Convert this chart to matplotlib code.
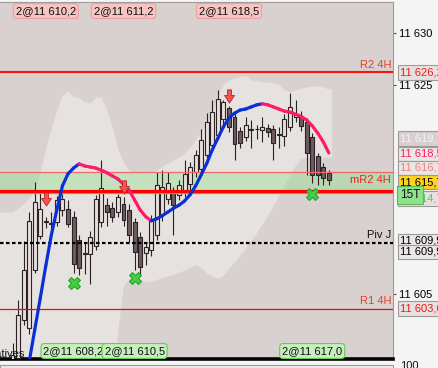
import matplotlib
matplotlib.use("Agg")
import matplotlib.pyplot as plt
import numpy as np
from matplotlib.collections import LineCollection
from matplotlib.path import Path
from matplotlib.ticker import FuncFormatter

plt.rcParams['font.family'] = ['Liberation Sans', 'DejaVu Sans']

# ---- data ----
opens = [11597.5, 11598.9, 11602.5, 11601.7, 11607.3, 11610.55, 11611.85, 11611.8, 11611.9, 11613.0,
         11613.1, 11612.4, 11610.2, 11608.85, 11608.8, 11609.6, 11611.9, 11613.5, 11613.2, 11612.85,
         11613.6, 11613.0, 11611.9, 11610.45, 11608.9, 11609.2, 11610.65, 11612.55, 11614.1, 11614.75,
         11614.5, 11614.75, 11615.5, 11616.7, 11617.0, 11618.3, 11619.25, 11620.2, 11621.7, 11622.8,
         11621.95, 11620.6, 11620.0, 11620.75, 11620.75, 11620.7, 11620.9, 11620.8, 11620.25, 11620.1,
         11621.0, 11621.95, 11621.95, 11621.45, 11620.0, 11618.2, 11617.15, 11616.6]
highs = [11600.3, 11604.4, 11610.1, 11612.85, 11615.7, 11614.7, 11612.4, 11612.8, 11614.4, 11614.6,
         11614.0, 11612.9, 11610.6, 11610.0, 11611.0, 11614.5, 11617.8, 11614.2, 11613.8, 11614.6,
         11614.3, 11613.6, 11612.3, 11610.9, 11610.0, 11612.6, 11616.65, 11616.9, 11616.65, 11615.2,
         11615.9, 11617.8, 11617.6, 11618.8, 11620.75, 11622.3, 11623.55, 11624.5, 11623.6, 11623.0,
         11622.3, 11621.0, 11621.9, 11621.65, 11621.2, 11621.9, 11621.3, 11621.2, 11621.0, 11622.2,
         11624.25, 11623.6, 11622.5, 11621.8, 11620.4, 11618.5, 11617.5, 11616.9]
lows = [11597.0, 11598.3, 11602.0, 11601.2, 11607.0, 11610.3, 11611.3, 11611.1, 11611.5, 11612.5,
        11611.4, 11607.0, 11606.8, 11606.9, 11606.0, 11609.2, 11611.4, 11611.5, 11611.9, 11612.4,
        11611.5, 11610.0, 11607.3, 11606.7, 11607.8, 11608.6, 11610.2, 11612.0, 11613.6, 11610.65,
        11614.0, 11614.3, 11615.0, 11616.2, 11616.5, 11617.8, 11618.8, 11619.8, 11621.3, 11620.5,
        11617.8, 11619.0, 11619.6, 11619.0, 11619.8, 11619.5, 11620.0, 11617.8, 11619.0, 11619.2,
        11620.6, 11621.5, 11620.6, 11616.4, 11615.6, 11615.4, 11615.4, 11615.4]
closes = [11599.2, 11603.0, 11607.3, 11612.0, 11613.8, 11613.1, 11611.95, 11611.7, 11614.0, 11614.1,
          11611.7, 11607.9, 11607.5, 11608.9, 11610.45, 11614.1, 11615.1, 11612.85, 11612.4, 11614.3,
          11612.1, 11610.65, 11609.0, 11607.6, 11609.5, 11612.1, 11615.4, 11615.25, 11615.6, 11613.5,
          11615.45, 11616.5, 11617.15, 11618.3, 11619.75, 11621.45, 11622.4, 11623.65, 11623.35, 11621.0,
          11619.35, 11619.45, 11621.2, 11620.65, 11620.8, 11621.0, 11620.5, 11619.45, 11620.2, 11621.75,
          11622.9, 11622.2, 11621.1, 11618.5, 11616.4, 11616.4, 11616.1, 11615.9]

ma_line = [np.nan, np.nan, np.nan, 11598.5, 11601.55, 11604.6, 11607.7, 11610.65, 11613.1, 11615.35,
           11616.5, 11617.05, 11617.45, 11617.25, 11617.15, 11617.05, 11616.85, 11616.6, 11616.3, 11616.0,
           11615.5, 11614.95, 11614.0, 11613.05, 11612.4, 11612.0, 11612.2, 11612.5, 11612.85, 11613.2,
           11613.5, 11613.9, 11614.5, 11615.35, 11616.4, 11617.5, 11618.8, 11619.9, 11621.0, 11621.85,
           11622.3, 11622.6, 11622.7, 11622.9, 11623.1, 11623.2, 11623.1, 11622.9, 11622.7, 11622.5,
           11622.4, 11622.2, 11622.0, 11621.65, 11621.1, 11620.4, 11619.55, 11618.5]

env_upper = [11612.85, 11613.2, 11613.6, 11614.2, 11614.95, 11616.7, 11619.0, 11620.9, 11622.6, 11624.05,
             11624.4, 11623.85, 11623.85, 11623.4, 11623.3, 11623.85, 11623.85, 11622.6, 11620.9, 11618.8,
             11617.55, 11616.85, 11616.65, 11616.6, 11616.6, 11616.65, 11616.85, 11617.25, 11617.55, 11617.8,
             11618.1, 11618.5, 11619.05, 11619.75, 11620.5, 11621.25, 11622.4, 11624.05, 11625.1, 11625.5,
             11625.65, 11625.85, 11625.85, 11625.5, 11625.4, 11625.3, 11625.3, 11625.2, 11625.1, 11624.5,
             11624.35, 11624.5, 11624.7, 11624.8, 11624.9, 11624.9, 11624.8, 11624.6]
env_lower = [11596.0] * 19 + [
             11601.55, 11605.85, 11606.5, 11606.6, 11606.4, 11606.15, 11606.25, 11606.4, 11606.6, 11606.7,
             11606.9, 11607.1, 11607.3, 11607.6, 11607.8, 11607.5, 11607.0, 11606.7, 11606.5, 11606.8,
             11607.5, 11608.05, 11608.7, 11609.4, 11610.15, 11610.9, 11611.7, 11612.55, 11613.5, 11614.45,
             11615.45, 11616.4, 11617.35, 11618.0, 11618.1, 11618.1, 11618.1, 11618.1, 11618.1]

r2_4h = 11626.2
r1_4h = 11603.6
mr2_4h = 11614.9
piv_j = 11609.9
band_top, band_bot = 11616.7, 11614.7

sell_bars = [6, 20, 39]
sell_prices = [11614.1, 11615.2, 11623.9]
sell_tags = ["2@11 610,2", "2@11 611,2", "2@11 618,5"]
buy_bars = [11, 22, 54]
buy_prices = [11606.05, 11606.5, 11614.6]
buy_tags = ["2@11 608,2", "2@11 610,5", "2@11 617,0"]

scale_ticks = [11605, 11625, 11630]

# right scale boxes: price, text, text colour, box colour, nudge (px)
scale_labels = [
    (11626.2, "11 626,2", "#f01818", "#e6e0e0", 0),
    (11619.7, "11 619,7", "#f6f2f2", "#d8d0d0", -2),
    (11618.5, "11 618,5", "#ff1a66", "#ebe7e7", 1),
    (11616.7, "11 616,7", "#f08080", "#ebe6e6", -4),
    (11614.7, "11 614,7", "#55c855", "#e6e2e2", 6),
    (11615.7, "11 615,7", "#000000", "#ffd21c", 0),
    (11609.9, "11 609,9", "#000000", "#ebe7e7", -2),
    (11609.9, "11 609,9", "#000000", "#ebe7e7", 9),
    (11603.6, "11 603,6", "#f01818", "#e6e0e0", 0),
]

# ---- layout (pixels of the 438x368 screenshot) ----
W, H = 438, 368
PLOT_R = 393
TOP, BOT = 2, 359
X0, STEP = 12.5, 5.55
PX_PER_PT = 10.45
Y_REF, P_REF = 85, 11625.0

fig = plt.figure(figsize=(W / 100, H / 100), dpi=100, facecolor="#f5f4f4")
ax = fig.add_axes([0, (H - BOT) / H, PLOT_R / W, (BOT - TOP) / H])
ax.set_facecolor("#d9d1cf")

idx = np.arange(len(opens))
o, h, l, c = map(np.array, (opens, highs, lows, closes))

# light envelope
xe = np.r_[idx[0] - 2.4, idx, idx[-1] + 0.45]
up_e = np.r_[env_upper[0], env_upper, env_upper[-1]]
lo_e = np.r_[env_lower[0], env_lower, env_lower[-1]]
ax.fill_between(xe, lo_e, up_e, color="#e6e2e0", lw=0, zorder=1)

# green zone
ax.axhspan(band_bot, band_top, color="#8fe08a", alpha=0.4, lw=0, zorder=1.5)

# candles
edge = "#2b2226"
ax.vlines(idx, l, h, color=edge, lw=0.8, zorder=3)
rising = c >= o
body_lo = np.minimum(o, c)
body_h = np.maximum(np.abs(c - o), 0.07)
ax.bar(idx[rising], body_h[rising], bottom=body_lo[rising], width=0.72,
       color="#e8dedc", edgecolor=edge, lw=0.8, zorder=4)
ax.bar(idx[~rising], body_h[~rising], bottom=body_lo[~rising], width=0.72,
       color="#6e5a61", edgecolor=edge, lw=0.8, zorder=4)

# level lines
ax.axhline(r2_4h, color="#ff1010", lw=1.5, zorder=5)
ax.axhline(r1_4h, color="#e01010", lw=0.9, zorder=5)
ax.axhline(band_top, color="#f06868", lw=0.9, zorder=5)
ax.axhline(band_bot, color="#55cc55", lw=0.9, zorder=5)
ax.axhline(mr2_4h, color="#ff0000", lw=2.3, zorder=5)
ax.axhline(piv_j, color="#000000", lw=1.6, ls=(0, (1.6, 1.1)), zorder=5)

lvl_kw = dict(ha="right", va="bottom", fontsize=8, zorder=6,
              transform=ax.get_yaxis_transform())
ax.text(0.995, r2_4h + 0.25, "R2 4H", color="#e8402a", **lvl_kw)
ax.text(0.995, mr2_4h + 0.55, "mR2 4H", color="#ee2222", **lvl_kw)
ax.text(0.995, piv_j + 0.25, "Piv J", color="#101010", **lvl_kw)
ax.text(0.995, r1_4h + 0.25, "R1 4H", color="#e8402a", **lvl_kw)

# moving average, blue rising / pink falling
ma = np.array(ma_line)
pts = np.column_stack([idx, ma])
segs = np.stack([pts[:-1], pts[1:]], axis=1)
slope = np.diff(ma)
seg_cols = ["#0b2fd6" if s >= 0 else "#ff1a66" for s in slope]
ax.add_collection(LineCollection(segs, colors=seg_cols, lw=2.3, capstyle="round", zorder=7))

# signals
arrow = Path([(-0.3, 1), (0.3, 1), (0.3, 0.15), (0.75, 0.15), (0, -1),
              (-0.75, 0.15), (-0.3, 0.15), (-0.3, 1)], closed=True)
ax.plot(sell_bars, sell_prices, ls="none", marker=arrow, ms=9.5,
        mfc="#f05454", mec="#c42020", mew=0.6, zorder=8)
ax.plot(buy_bars, buy_prices, ls="none", marker="X", ms=8.5,
        mfc="#46cc46", mec="#239923", mew=0.7, zorder=8)

tx = ax.get_xaxis_transform()
for b, t in zip(sell_bars, sell_tags):
    ax.text(b, (BOT - 11) / (BOT - TOP), t, transform=tx, ha="center", va="center", fontsize=8,
            color="#111111", zorder=9,
            bbox=dict(boxstyle="round,pad=0.22,rounding_size=0.3", fc="#f6c4c4", ec="#f0a0a0", lw=0.8))
for b, t in zip(buy_bars, buy_tags):
    ax.text(b, (BOT - 351) / (BOT - TOP), t, transform=tx, ha="center", va="center", fontsize=8,
            color="#111111", zorder=9,
            bbox=dict(boxstyle="round,pad=0.22,rounding_size=0.3", fc="#c6eebe", ec="#66cc55", lw=0.8))

# axes ranges from the pixel geometry
ax.set_xlim(-X0 / STEP, (PLOT_R - X0) / STEP)
ax.set_ylim(P_REF - (BOT - Y_REF) / PX_PER_PT, P_REF + (Y_REF - TOP) / PX_PER_PT)

# right price scale
ax.yaxis.tick_right()
ax.set_yticks(scale_ticks)
ax.yaxis.set_major_formatter(FuncFormatter(lambda v, _: f"{v:,.0f}".replace(",", " ")))
ax.tick_params(axis="y", length=2.5, width=0.8, color="#505050", pad=1.5, labelsize=8)
ax.set_xticks([])
ax.spines["left"].set_visible(False)
ax.spines["top"].set_color("#a09a9a")
ax.spines["right"].set_color("#a09a9a")
ax.spines["bottom"].set_color("#000000")
ax.spines["bottom"].set_linewidth(2.6)

ty = ax.get_yaxis_transform()
for p, t, tc, fc, nud in scale_labels:
    ax.annotate(t, xy=(1, p), xycoords=ty, xytext=(7, -nud), textcoords="offset pixels",
                ha="left", va="center", fontsize=8, color=tc, zorder=10, annotation_clip=False,
                bbox=dict(boxstyle="square,pad=0.2", fc=fc, ec="#a09898", lw=0.8))
ax.annotate("15T", xy=(1, band_bot), xycoords=ty, xytext=(7, -2), textcoords="offset pixels",
            ha="left", va="center", fontsize=8.5, color="#111111", zorder=11, annotation_clip=False,
            bbox=dict(boxstyle="square,pad=0.25", fc="#8fe08f", ec="#55bb55", lw=0.8))

ax.text(0.062, (BOT - 354) / (BOT - TOP), "Derivatives", transform=ax.transAxes,
        ha="right", va="center", fontsize=8, color="#111111", zorder=9)

# next panel peeking in at the bottom
ax2 = fig.add_axes([0, -12 / H, PLOT_R / W, 15 / H])
ax2.set_facecolor("#ebe8e8")
ax2.set_xticks([])
ax2.set_yticks([])
for s in ax2.spines.values():
    s.set_color("#a09a9a")
fig.text(400 / W, 1 - 366 / H, "100", fontsize=8, va="center", color="#111111")

fig.savefig("out.png", dpi=100, facecolor=fig.get_facecolor())
